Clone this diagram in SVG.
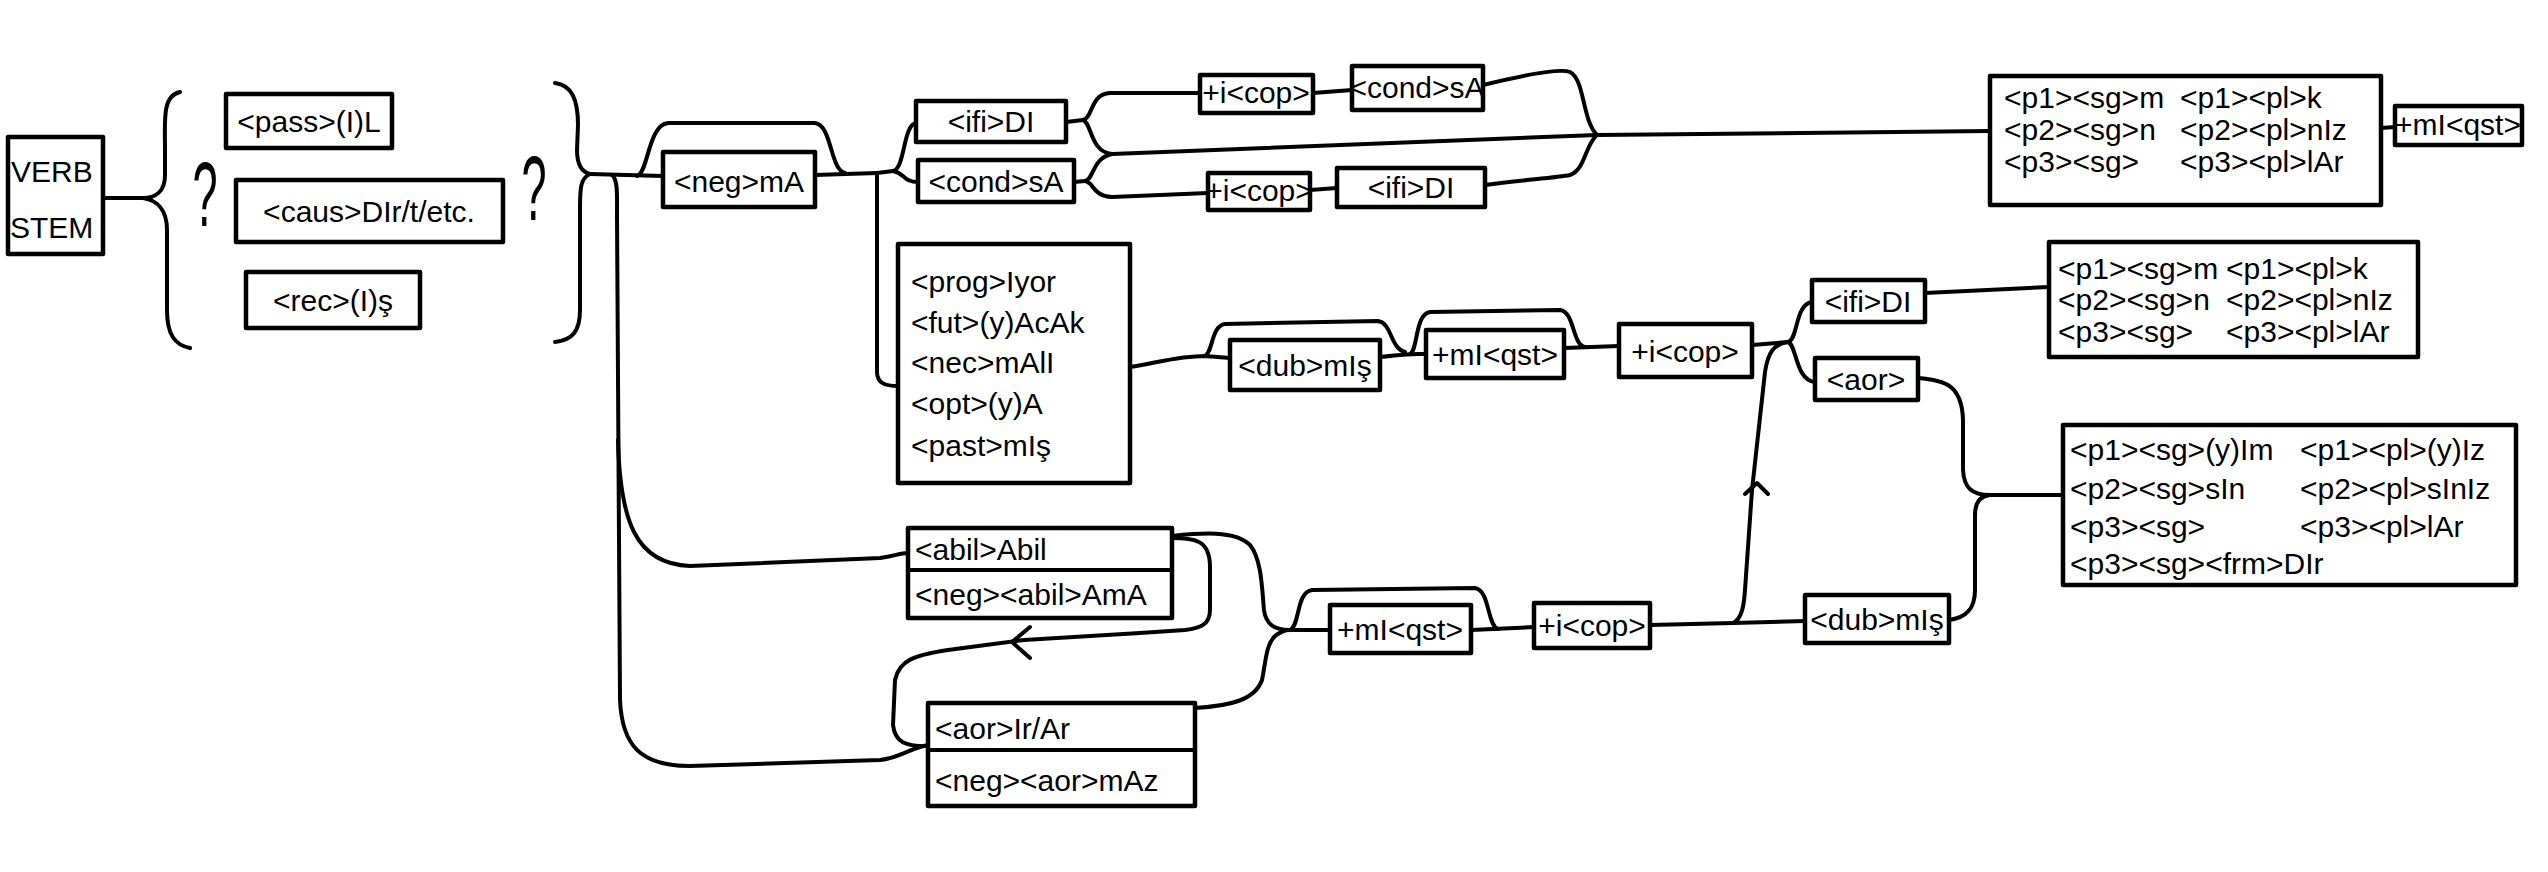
<svg xmlns="http://www.w3.org/2000/svg" width="2548" height="872" viewBox="0 0 2548 872">
<style>
.bx{fill:#fff;stroke:#000;stroke-width:4.5;stroke-linejoin:round}
.ln{fill:none;stroke:#000;stroke-width:4;stroke-linecap:round;stroke-linejoin:round}
.t{font-family:"Liberation Sans",Arial,sans-serif;font-size:30px;fill:#000}
.m{text-anchor:middle}
.q{font-family:"Liberation Sans",Arial,sans-serif;font-size:90px;fill:#000;text-anchor:middle}
</style>
<rect width="2548" height="872" fill="#fff"/>
<g id="connectors">
<path class="ln" d="M103,198 L143,198"/>
<path class="ln" d="M180,92 C162,96 165,120 165,150 L165,175 C165,192 155,198 143,198 C157,200 167,210 167,230 L167,310 C167,335 175,345 190,348"/>
<path class="ln" d="M555,83 C572,85 578,100 578,125 L577,150 C577,165 582,172 590,174 C580,178 580,190 580,210 L580,310 C580,332 572,340 555,342"/>
<path class="ln" d="M590,174 L663,176"/>
<path class="ln" d="M612,175 C618,180 617,195 617,215 L620,700 C622,745 640,766 690,766 L880,760 C900,758 910,748 928,745"/>
<path class="ln" d="M618,440 C620,520 635,564 690,566 L880,558 C895,556 900,553 908,553"/>
<path class="ln" d="M637,176 C648,174 648,125 668,123 L815,123 C832,125 830,170 845,173"/>
<path class="ln" d="M815,175 L877,173"/>
<path class="ln" d="M877,173 L877,372 C877,383 885,386 898,386"/>
<path class="ln" d="M877,173 L893,171 C905,169 903,125 916,123"/>
<path class="ln" d="M893,171 C905,173 903,182 918,182"/>
<path class="ln" d="M1066,122 L1083,120 C1093,118 1090,94 1110,93 L1200,93"/>
<path class="ln" d="M1083,120 C1092,123 1090,152 1112,154 C1300,148 1450,140 1597,135"/>
<path class="ln" d="M1074,182 L1085,181 C1094,180 1092,158 1112,154"/>
<path class="ln" d="M1085,181 C1094,182 1092,196 1112,197 L1208,193"/>
<path class="ln" d="M1313,93 L1352,90"/>
<path class="ln" d="M1483,85 C1520,76 1560,68 1570,72 C1585,80 1582,120 1597,135"/>
<path class="ln" d="M1310,190 L1337,188"/>
<path class="ln" d="M1485,185 C1520,180 1555,178 1570,175 C1585,170 1585,145 1597,135"/>
<path class="ln" d="M1597,135 L1990,131"/>
<path class="ln" d="M2381,128 L2395,127"/>
<path class="ln" d="M1130,367 C1160,362 1180,356 1205,356 L1230,358"/>
<path class="ln" d="M1205,356 C1213,352 1211,326 1225,324 L1378,321 C1392,323 1390,348 1405,352"/>
<path class="ln" d="M1380,357 C1395,356 1400,354 1418,354 L1426,354"/>
<path class="ln" d="M1410,354 C1418,350 1415,314 1430,312 L1560,310 C1575,312 1572,345 1585,347"/>
<path class="ln" d="M1564,348 L1619,346"/>
<path class="ln" d="M1752,345 L1788,342"/>
<path class="ln" d="M1788,342 C1798,340 1795,304 1812,302"/>
<path class="ln" d="M1788,342 C1797,345 1795,380 1815,382"/>
<path class="ln" d="M1925,293 L2049,287"/>
<path class="ln" d="M1918,378 C1945,380 1962,385 1963,420 L1963,470 C1964,488 1972,495 1990,495 L2063,495"/>
<path class="ln" d="M1949,620 C1965,618 1975,610 1975,590 L1975,515 C1975,502 1980,496 1990,495"/>
<path class="ln" d="M1172,538 C1195,538 1210,540 1210,567 L1210,610 C1210,625 1200,628 1185,630 L1140,633 L1024,640 L948,650 C915,655 899,660 895,680 L893,725 C895,742 905,747 930,746"/>
<path class="ln" d="M1030,627 L1012,642 L1030,658"/>
<path class="ln" d="M1172,536 C1200,533 1235,530 1250,545 C1262,560 1262,590 1264,610 C1266,625 1275,630 1290,630 L1330,630"/>
<path class="ln" d="M1195,708 C1230,706 1255,700 1262,680 C1266,660 1266,645 1275,636 C1280,632 1285,630 1290,630"/>
<path class="ln" d="M1290,630 C1300,626 1296,592 1312,590 L1475,588 C1490,590 1487,626 1498,629"/>
<path class="ln" d="M1471,630 L1534,627"/>
<path class="ln" d="M1650,625 L1733,623 L1805,621"/>
<path class="ln" d="M1733,623 C1742,619 1744,605 1745,590 L1752,490 L1765,372 C1768,352 1774,344 1788,342"/>
<path class="ln" d="M1745,494 L1757,483 L1768,494"/>
</g>
<g id="verb-stem"><rect class="bx" x="8" y="137" width="95" height="117"/><text class="t" x="11" y="182" font-size="32">VERB</text><text class="t" x="10" y="238" font-size="32">STEM</text></g>
<g id="q-left"><text class="q" transform="translate(205,226) scale(0.5,1)">?</text></g>
<g id="q-right"><text class="q" transform="translate(534,220) scale(0.5,1)">?</text></g>
<g id="pass"><rect class="bx" x="226" y="94" width="166" height="54"/><text class="t m" x="309" y="132" font-size="31">&lt;pass&gt;(I)L</text></g>
<g id="caus"><rect class="bx" x="236" y="180" width="267" height="62"/><text class="t m" x="369" y="222" font-size="33">&lt;caus&gt;DIr/t/etc.</text></g>
<g id="rec"><rect class="bx" x="246" y="272" width="174" height="56"/><text class="t m" x="333" y="311" font-size="33">&lt;rec&gt;(I)ş</text></g>
<g id="neg"><rect class="bx" x="663" y="152" width="152" height="55"/><text class="t m" x="739" y="192" font-size="33">&lt;neg&gt;mA</text></g>
<g id="ifi1"><rect class="bx" x="916" y="101" width="150" height="41"/><text class="t m" x="991" y="132" font-size="32">&lt;ifi&gt;DI</text></g>
<g id="cond1"><rect class="bx" x="918" y="160" width="156" height="42"/><text class="t m" x="996" y="192" font-size="32">&lt;cond&gt;sA</text></g>
<g id="cop-up"><rect class="bx" x="1200" y="75" width="113" height="38"/><text class="t m" x="1256" y="103" font-size="27">+i&lt;cop&gt;</text></g>
<g id="cond-up"><rect class="bx" x="1352" y="66" width="131" height="44"/><text class="t m" x="1417" y="98" font-size="28">&lt;cond&gt;sA</text></g>
<g id="cop-low"><rect class="bx" x="1208" y="173" width="102" height="37"/><text class="t m" x="1259" y="201" font-size="26">+i&lt;cop&gt;</text></g>
<g id="ifi-low"><rect class="bx" x="1337" y="168" width="148" height="39"/><text class="t m" x="1411" y="198" font-size="30">&lt;ifi&gt;DI</text></g>
<g id="person1"><rect class="bx" x="1990" y="76" width="391" height="129"/>
<text class="t" font-size="27" x="2004" y="108">&lt;p1&gt;&lt;sg&gt;m</text><text class="t" font-size="27" x="2180" y="108">&lt;p1&gt;&lt;pl&gt;k</text>
<text class="t" font-size="27" x="2004" y="140">&lt;p2&gt;&lt;sg&gt;n</text><text class="t" font-size="27" x="2180" y="140">&lt;p2&gt;&lt;pl&gt;nIz</text>
<text class="t" font-size="27" x="2004" y="172">&lt;p3&gt;&lt;sg&gt;</text><text class="t" font-size="27" x="2180" y="172">&lt;p3&gt;&lt;pl&gt;lAr</text></g>
<g id="qst-top"><rect class="bx" x="2395" y="106" width="127" height="39"/><text class="t m" x="2458" y="135" font-size="26">+mI&lt;qst&gt;</text></g>
<g id="tense"><rect class="bx" x="898" y="244" width="232" height="239"/>
<text class="t" font-size="34" x="911" y="292">&lt;prog&gt;Iyor</text>
<text class="t" font-size="34" x="911" y="333">&lt;fut&gt;(y)AcAk</text>
<text class="t" font-size="34" x="911" y="373">&lt;nec&gt;mAlI</text>
<text class="t" font-size="34" x="911" y="414">&lt;opt&gt;(y)A</text>
<text class="t" font-size="34" x="911" y="456">&lt;past&gt;mIş</text></g>
<g id="dub-mid"><rect class="bx" x="1230" y="340" width="150" height="50"/><text class="t m" x="1305" y="376" font-size="31">&lt;dub&gt;mIş</text></g>
<g id="qst-mid"><rect class="bx" x="1426" y="330" width="138" height="48"/><text class="t m" x="1495" y="365" font-size="29">+mI&lt;qst&gt;</text></g>
<g id="cop-mid"><rect class="bx" x="1619" y="324" width="133" height="53"/><text class="t m" x="1685" y="362" font-size="32">+i&lt;cop&gt;</text></g>
<g id="ifi-mid"><rect class="bx" x="1812" y="280" width="113" height="42"/><text class="t m" x="1868" y="312">&lt;ifi&gt;DI</text></g>
<g id="aor-mid"><rect class="bx" x="1815" y="358" width="103" height="42"/><text class="t m" x="1866" y="390">&lt;aor&gt;</text></g>
<g id="person2"><rect class="bx" x="2049" y="242" width="369" height="115"/>
<text class="t" font-size="25" x="2058" y="279">&lt;p1&gt;&lt;sg&gt;m</text><text class="t" font-size="25" x="2226" y="279">&lt;p1&gt;&lt;pl&gt;k</text>
<text class="t" font-size="25" x="2058" y="310">&lt;p2&gt;&lt;sg&gt;n</text><text class="t" font-size="25" x="2226" y="310">&lt;p2&gt;&lt;pl&gt;nIz</text>
<text class="t" font-size="25" x="2058" y="342">&lt;p3&gt;&lt;sg&gt;</text><text class="t" font-size="25" x="2226" y="342">&lt;p3&gt;&lt;pl&gt;lAr</text></g>
<g id="person3"><rect class="bx" x="2063" y="425" width="453" height="160"/>
<text class="t" font-size="28" x="2070" y="460">&lt;p1&gt;&lt;sg&gt;(y)Im</text><text class="t" font-size="28" x="2300" y="460">&lt;p1&gt;&lt;pl&gt;(y)Iz</text>
<text class="t" font-size="28" x="2070" y="499">&lt;p2&gt;&lt;sg&gt;sIn</text><text class="t" font-size="28" x="2300" y="499">&lt;p2&gt;&lt;pl&gt;sInIz</text>
<text class="t" font-size="28" x="2070" y="537">&lt;p3&gt;&lt;sg&gt;</text><text class="t" font-size="28" x="2300" y="537">&lt;p3&gt;&lt;pl&gt;lAr</text>
<text class="t" font-size="28" x="2070" y="574">&lt;p3&gt;&lt;sg&gt;&lt;frm&gt;DIr</text></g>
<g id="abil"><rect class="bx" x="908" y="528" width="264" height="90"/><path class="ln" d="M908,570 L1172,570"/>
<text class="t" font-size="30" x="915" y="560">&lt;abil&gt;Abil</text><text class="t" font-size="30" x="915" y="605">&lt;neg&gt;&lt;abil&gt;AmA</text></g>
<g id="aor"><rect class="bx" x="928" y="703" width="267" height="103"/><path class="ln" d="M928,750 L1195,750"/>
<text class="t" font-size="31" x="935" y="739">&lt;aor&gt;Ir/Ar</text><text class="t" font-size="31" x="935" y="791">&lt;neg&gt;&lt;aor&gt;mAz</text></g>
<g id="qst-low"><rect class="bx" x="1330" y="605" width="141" height="48"/><text class="t m" x="1400" y="640" font-size="29">+mI&lt;qst&gt;</text></g>
<g id="cop-low2"><rect class="bx" x="1534" y="603" width="116" height="45"/><text class="t m" x="1592" y="636" font-size="29">+i&lt;cop&gt;</text></g>
<g id="dub-low"><rect class="bx" x="1805" y="595" width="144" height="48"/><text class="t m" x="1877" y="630" font-size="31">&lt;dub&gt;mIş</text></g>
</svg>
